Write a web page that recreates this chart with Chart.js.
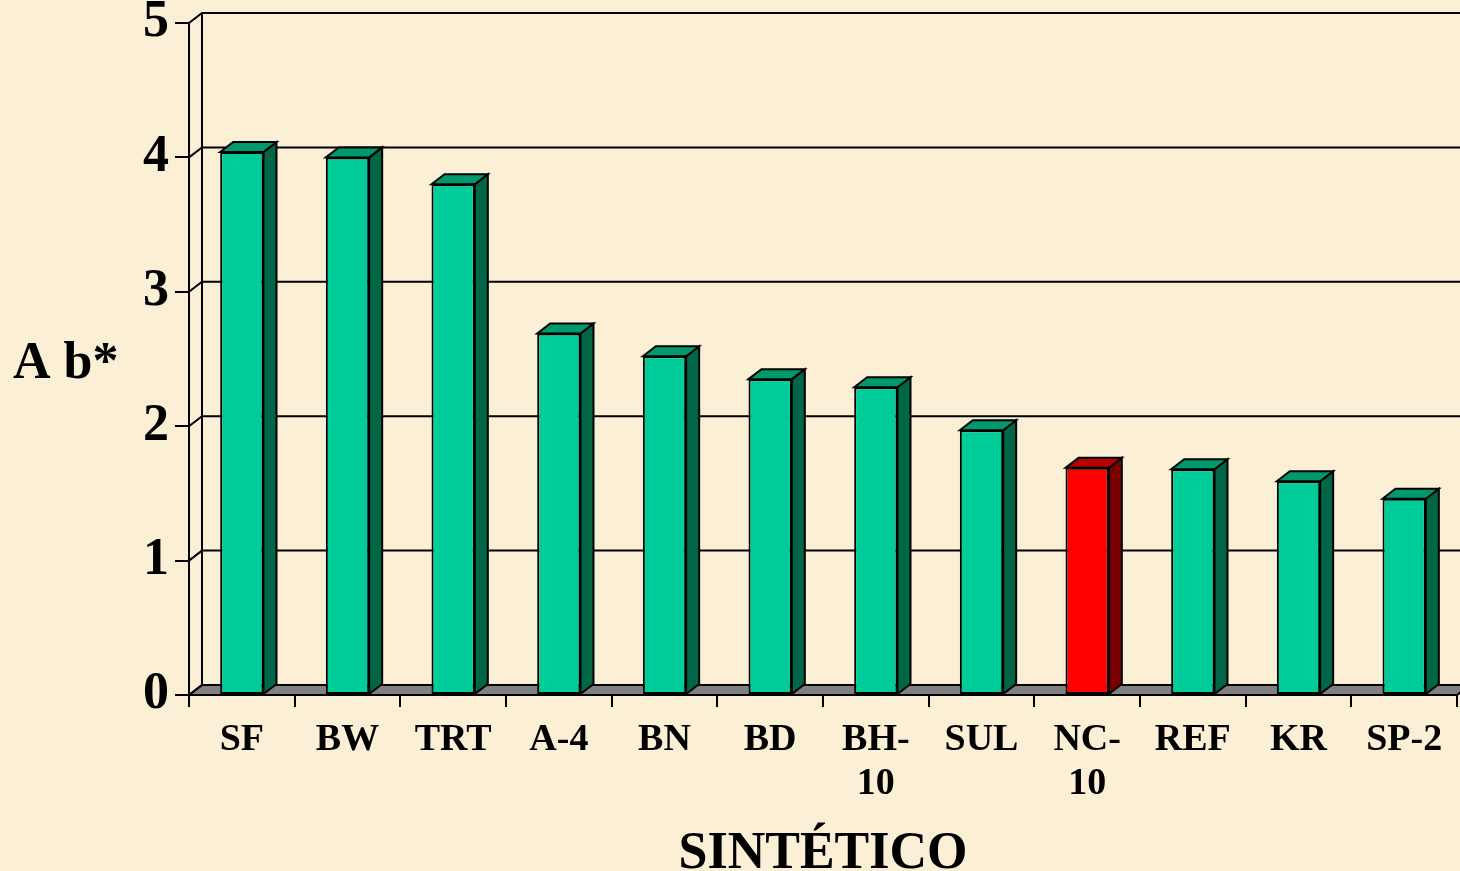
<!DOCTYPE html>
<html>
<head>
<meta charset="utf-8">
<script src="https://cdn.jsdelivr.net/npm/chart.js@4.4.1/dist/chart.umd.min.js"></script>
<style>
  body { margin: 0; background: #fbefd6; }
  #wrap { width: 1460px; height: 871px; }
</style>
</head>
<body>
<div id="wrap"><canvas id="chartContainer" width="1460" height="871"></canvas></div>
<script>
const categories = ['SF', 'BW', 'TRT', 'A-4', 'BN', 'BD', ['BH-', '10'], 'SUL', ['NC-', '10'], 'REF', 'KR', 'SP-2'];
const values = [4.04, 4.00, 3.80, 2.69, 2.52, 2.35, 2.29, 1.97, 1.69, 1.68, 1.59, 1.46];
const yTicks = [0, 1, 2, 3, 4, 5];
const highlighted = 8; // NC-10 is drawn in red

const serif = '"Liberation Serif", "Times New Roman", serif';
const depthX = 13;
const depthY = -10;

const frontColors = values.map((v, i) => i === highlighted ? '#ff0000' : '#00cc99');
const sideColors = values.map((v, i) => i === highlighted ? '#7a0000' : '#006646');
const topColors = values.map((v, i) => i === highlighted ? '#b80000' : '#00996e');

// back wall, left wall and floor of the 3d box
const boxPlugin = {
  id: 'box3d',
  beforeDraw(chart) {
    const ctx = chart.ctx;
    ctx.save();
    ctx.fillStyle = '#fbefd6';
    ctx.fillRect(0, 0, chart.width, chart.height);
    ctx.restore();
  },
  beforeDatasetsDraw(chart) {
    const ctx = chart.ctx;
    const y = chart.scales.y;
    const area = chart.chartArea;
    ctx.save();
    ctx.strokeStyle = '#000';
    ctx.lineWidth = 2;

    // floor
    const y0 = y.getPixelForValue(0);
    ctx.beginPath();
    ctx.moveTo(area.left, y0);
    ctx.lineTo(area.left + depthX, y0 + depthY);
    ctx.lineTo(area.right + depthX, y0 + depthY);
    ctx.lineTo(area.right, y0);
    ctx.closePath();
    ctx.fillStyle = '#808080';
    ctx.fill();
    ctx.stroke();

    // gridlines on back wall + left wall diagonals
    yTicks.forEach(v => {
      const py = y.getPixelForValue(v);
      ctx.beginPath();
      ctx.moveTo(area.left, py);
      ctx.lineTo(area.left + depthX, py + depthY);
      ctx.lineTo(chart.width + 20, py + depthY);
      ctx.stroke();
    });
    ctx.beginPath();
    ctx.moveTo(area.left + depthX, y.getPixelForValue(5) + depthY);
    ctx.lineTo(area.left + depthX, y0 + depthY);
    ctx.stroke();
    ctx.restore();
  },
  afterDatasetsDraw(chart) {
    const ctx = chart.ctx;
    const bars = chart.getDatasetMeta(0).data;
    ctx.save();
    ctx.strokeStyle = '#000';
    ctx.lineWidth = 2;
    ctx.lineJoin = 'miter';
    bars.forEach((bar, i) => {
      const p = bar.getProps(['x', 'y', 'base', 'width'], true);
      const left = p.x - p.width / 2;
      const right = p.x + p.width / 2;
      // side face
      ctx.beginPath();
      ctx.moveTo(right, p.y);
      ctx.lineTo(right + depthX, p.y + depthY);
      ctx.lineTo(right + depthX, p.base + depthY);
      ctx.lineTo(right, p.base);
      ctx.closePath();
      ctx.fillStyle = sideColors[i];
      ctx.fill();
      ctx.stroke();
      // top face
      ctx.beginPath();
      ctx.moveTo(left, p.y);
      ctx.lineTo(left + depthX, p.y + depthY);
      ctx.lineTo(right + depthX, p.y + depthY);
      ctx.lineTo(right, p.y);
      ctx.closePath();
      ctx.fillStyle = topColors[i];
      ctx.fill();
      ctx.stroke();
    });
    ctx.restore();
  },
  afterDraw(chart) {
    const ctx = chart.ctx;
    const area = chart.chartArea;
    ctx.save();
    ctx.fillStyle = '#000';
    ctx.font = 'bold 52px ' + serif;
    ctx.textAlign = 'left';
    ctx.textBaseline = 'alphabetic';
    ctx.fillText('A b*', 13, 378);
    ctx.font = 'bold 52px ' + serif;
    ctx.textAlign = 'center';
    ctx.fillText('SINTÉTICO', (area.left + area.right) / 2, 868);
    ctx.restore();
  }
};

new Chart(document.getElementById('chartContainer'), {
  type: 'bar',
  data: {
    labels: categories,
    datasets: [{
      data: values,
      backgroundColor: frontColors,
      borderColor: '#000',
      borderWidth: 2,
      borderSkipped: false,
      categoryPercentage: 1,
      barPercentage: 0.41
    }]
  },
  options: {
    responsive: false,
    devicePixelRatio: 1,
    animation: false,
    layout: { padding: { top: 23, right: 3, left: 0, bottom: 0 } },
    plugins: { legend: { display: false }, tooltip: { enabled: false } },
    scales: {
      x: {
        offset: true,
        grid: { offset: true, drawOnChartArea: false, drawTicks: true, tickLength: 12, color: '#000', lineWidth: 2 },
        border: { display: true, color: '#000', width: 2 },
        ticks: {
          color: '#000',
          font: { family: serif, size: 38, weight: 'bold', lineHeight: 1.16 },
          maxRotation: 0,
          autoSkip: false,
          padding: 11
        },
        afterFit(scale) { scale.height = 176; }
      },
      y: {
        min: 0,
        max: 5,
        grid: { drawOnChartArea: false, drawTicks: true, tickLength: 14, color: '#000', lineWidth: 2 },
        border: { display: true, color: '#000', width: 2 },
        ticks: {
          stepSize: 1,
          color: '#000',
          font: { family: serif, size: 52, weight: 'bold', lineHeight: 0.6 },
          padding: 6
        },
        afterFit(scale) { scale.width = 189; }
      }
    }
  },
  plugins: [boxPlugin]
});
</script>
</body>
</html>
